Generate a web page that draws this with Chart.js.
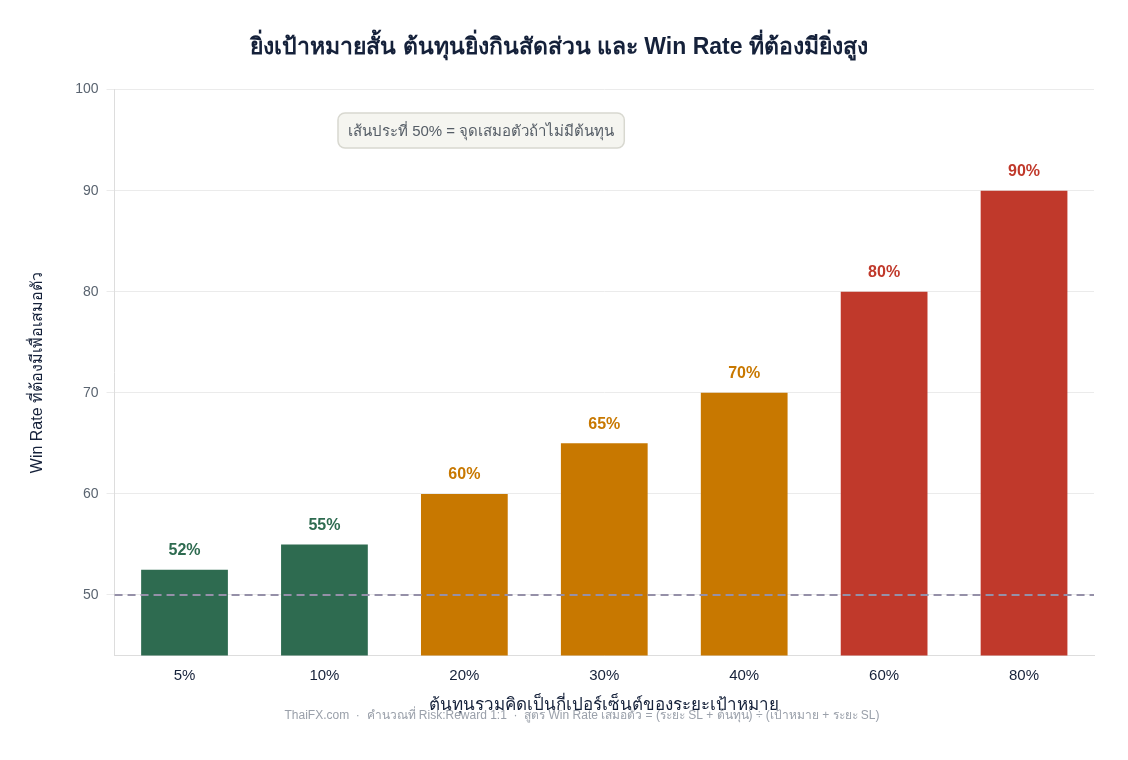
<!DOCTYPE html>
<html>
<head>
<meta charset="utf-8">
<script src="https://cdn.jsdelivr.net/npm/chart.js@4"></script>
<style>
  body { margin: 0; background: #fff; }
  #wrap { width: 1128px; height: 760px; position: relative; }
</style>
</head>
<body>
<div id="wrap"><canvas id="c"></canvas></div>
<script>
const categories = ['5%', '10%', '20%', '30%', '40%', '60%', '80%']
const winRates = [52.5, 55, 60, 65, 70, 80, 90]
const barLabels = ['52%', '55%', '60%', '65%', '70%', '80%', '90%']
const barColors = ['#2e6b50', '#2e6b50', '#c87800', '#c87800', '#c87800', '#c0392b', '#c0392b']
const breakEven = 50

const font = 'Arial, "Liberation Sans", "Noto Sans", sans-serif'

const extras = {
  id: 'extras',
  afterDatasetsDraw (chart) {
    const { ctx, chartArea, scales } = chart
    const y = scales.y.getPixelForValue(breakEven)
    ctx.save()
    ctx.strokeStyle = '#9590a8'
    ctx.lineWidth = 2
    ctx.setLineDash([8, 5])
    ctx.beginPath()
    ctx.moveTo(chartArea.left, y)
    ctx.lineTo(chartArea.right, y)
    ctx.stroke()
    ctx.setLineDash([])

    const meta = chart.getDatasetMeta(0)
    ctx.font = 'bold 16px ' + font
    ctx.textAlign = 'center'
    ctx.textBaseline = 'bottom'
    meta.data.forEach((bar, i) => {
      ctx.fillStyle = barColors[i]
      ctx.fillText(barLabels[i], bar.x, bar.y - 11)
    })

    // annotation box
    const text = 'เส้นประที่ 50% = จุดเสมอตัวถ้าไม่มีต้นทุน'
    ctx.font = '15px ' + font
    const w = ctx.measureText(text).width + 20
    const bx = 338, by = 113, bh = 35
    ctx.fillStyle = '#f5f5f0'
    ctx.strokeStyle = '#d8d8d0'
    ctx.lineWidth = 1.5
    ctx.beginPath()
    ctx.roundRect(bx, by, w, bh, 7)
    ctx.fill()
    ctx.stroke()
    ctx.fillStyle = '#555d66'
    ctx.textAlign = 'left'
    ctx.textBaseline = 'middle'
    ctx.fillText(text, bx + 10, by + bh / 2 + 1)

    ctx.font = '12px ' + font
    ctx.fillStyle = '#9aa0aa'
    ctx.textAlign = 'center'
    ctx.fillText('ThaiFX.com  ·  คำนวณที่ Risk:Reward 1:1  ·  สูตร Win Rate เสมอตัว = (ระยะ SL + ต้นทุน) ÷ (เป้าหมาย + ระยะ SL)', 582, 716)
    ctx.restore()
  }
}

new Chart(document.getElementById('c'), {
  type: 'bar',
  data: {
    labels: categories,
    datasets: [{
      data: winRates,
      backgroundColor: barColors,
      categoryPercentage: 0.62,
      barPercentage: 1
    }]
  },
  options: {
    responsive: true,
    maintainAspectRatio: false,
    animation: false,
    layout: { padding: { left: 24, right: 34, top: 10, bottom: 40 } },
    plugins: {
      legend: { display: false },
      tooltip: { enabled: false },
      title: {
        display: true,
        text: 'ยิ่งเป้าหมายสั้น ต้นทุนยิ่งกินสัดส่วน และ Win Rate ที่ต้องมียิ่งสูง',
        color: '#15213a',
        font: { family: font, size: 23, weight: 'bold' },
        padding: { top: 24, bottom: 28 }
      }
    },
    scales: {
      x: {
        grid: { display: false },
        border: { color: '#dddddd' },
        ticks: { color: '#15213a', font: { family: font, size: 15 } },
        title: {
          display: true,
          text: 'ต้นทุนรวมคิดเป็นกี่เปอร์เซ็นต์ของระยะเป้าหมาย',
          color: '#15213a',
          font: { family: font, size: 17 },
          padding: { top: 8 }
        }
      },
      y: {
        min: 44,
        max: 100,
        afterBuildTicks: axis => { axis.ticks = [50, 60, 70, 80, 90, 100].map(v => ({ value: v })) },
        grid: { color: '#ebebeb' },
        border: { color: '#dddddd' },
        ticks: { color: '#5a6470', font: { family: font, size: 14 }, padding: 8 },
        title: {
          display: true,
          text: 'Win Rate ที่ต้องมีเพื่อเสมอตัว',
          color: '#15213a',
          font: { family: font, size: 16 },
          padding: { bottom: 20 }
        }
      }
    }
  },
  plugins: [extras]
})
</script>
</body>
</html>
